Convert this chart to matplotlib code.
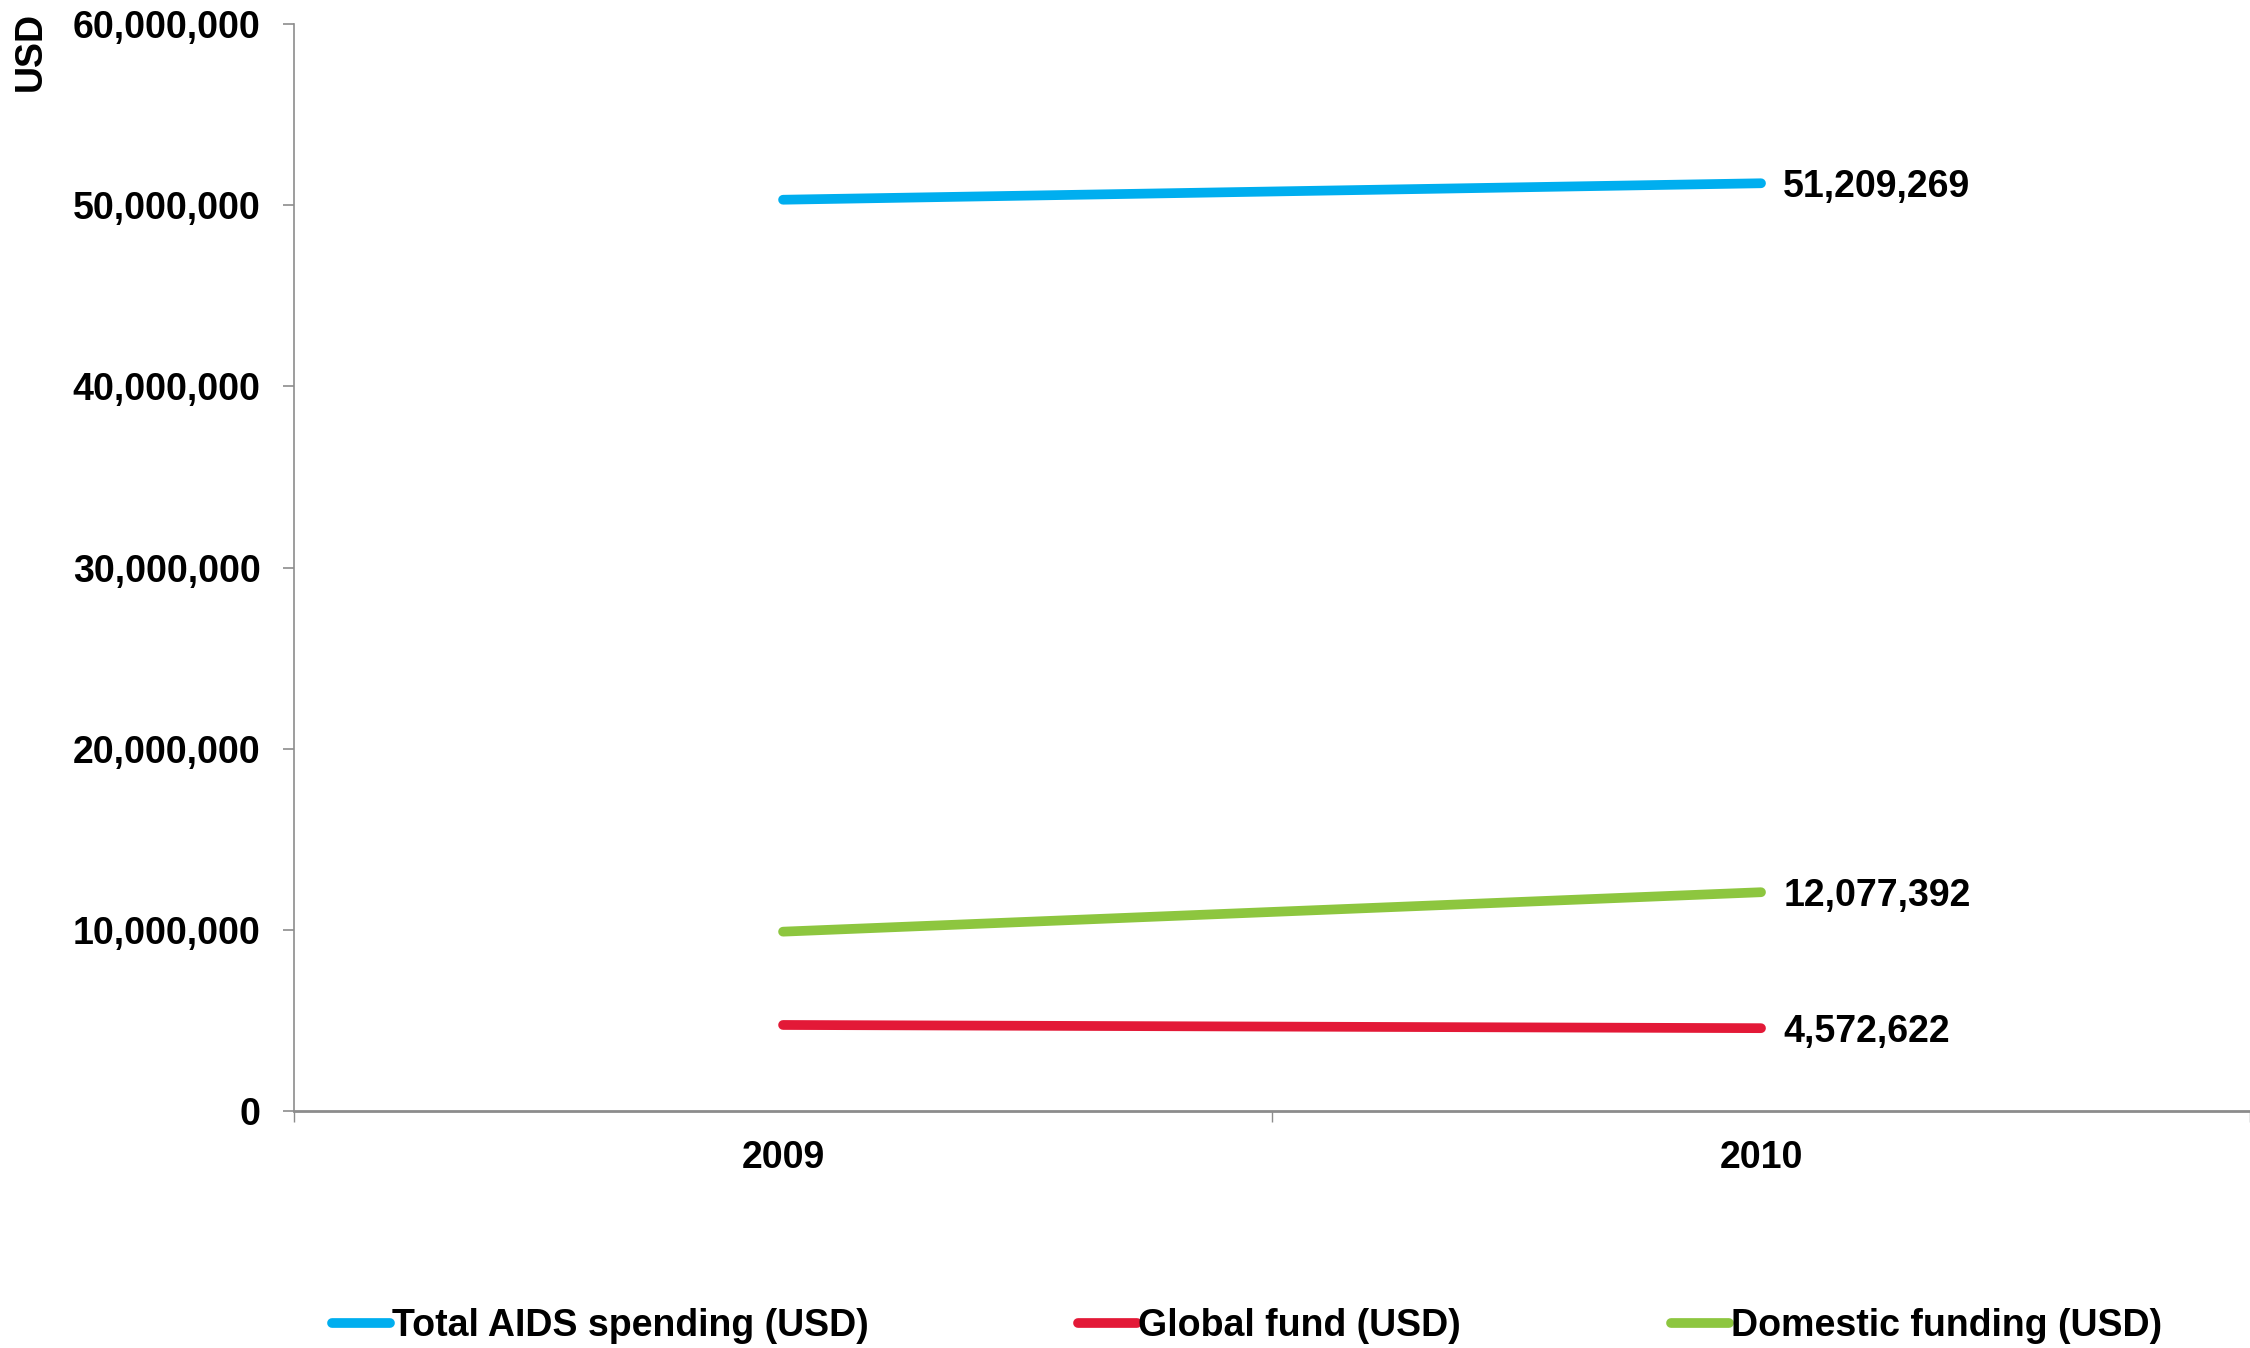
import numpy as np
import matplotlib.pyplot as plt
from matplotlib.ticker import FuncFormatter

# data
years = ['2009', '2010']
total_spending = [50300000, 51209269]
global_fund = [4750000, 4572622]
domestic_funding = [9900000, 12077392]

series_names = ['Total AIDS spending (USD)', 'Global fund (USD)', 'Domestic funding (USD)']
series_colors = ['#00AEEF', '#E31937', '#8DC63F']
end_labels = ['51,209,269', '4,572,622', '12,077,392']

plt.rcParams['font.family'] = ['Liberation Sans', 'DejaVu Sans']
plt.rcParams['font.weight'] = 'bold'
FS = 27

fig = plt.figure(figsize=(22.5, 13.48), dpi=100)
ax = fig.add_axes([0.1307, 0.1758, 0.8693, 0.8064])

x = np.arange(len(years))
all_series = [total_spending, global_fund, domestic_funding]
for vals, name, col, lab in zip(all_series, series_names, series_colors, end_labels):
    ax.plot(x, vals, color=col, lw=7, solid_capstyle='round', label=name)
    ax.annotate(lab, (x[-1], vals[-1]), xytext=(16, -2.5), textcoords='offset points',
                va='center', ha='left', fontsize=FS, fontweight='bold')

ax.set_xlim(-0.5, 1.5)
ax.set_ylim(0, 60000000)
ax.set_yticks(np.arange(0, 60000001, 10000000))
ax.yaxis.set_major_formatter(FuncFormatter(lambda v, p: f'{int(v):,}'))

# category labels at centres, tick marks on the boundaries
ax.set_xticks(x)
ax.set_xticklabels(years)
ax.set_xticks([-0.5, 0.5, 1.5], minor=True)
ax.tick_params(axis='x', which='major', length=0, pad=21, labelsize=FS)
ax.tick_params(axis='x', which='minor', length=8, width=1, color='#8c8c8c', direction='out')
ax.tick_params(axis='y', length=8, width=1.2, color='#8c8c8c', pad=16, labelsize=FS)

for s in ['top', 'right']:
    ax.spines[s].set_visible(False)
ax.spines['left'].set_color('#8c8c8c')
ax.spines['left'].set_linewidth(1.2)
ax.spines['bottom'].set_color('#8c8c8c')
ax.spines['bottom'].set_linewidth(2)

fig.text(31 / 2250, 1 - 12 / 1348, 'USD', rotation=90, va='top', ha='center',
         fontsize=FS, fontweight='bold')

fig.legend(loc='center', bbox_to_anchor=(1247 / 2250, 1 - 1326 / 1348), ncol=3,
           frameon=False, fontsize=FS, handlelength=1.55, handletextpad=0.05,
           columnspacing=5.6)

fig.savefig('out.png', dpi=100)
